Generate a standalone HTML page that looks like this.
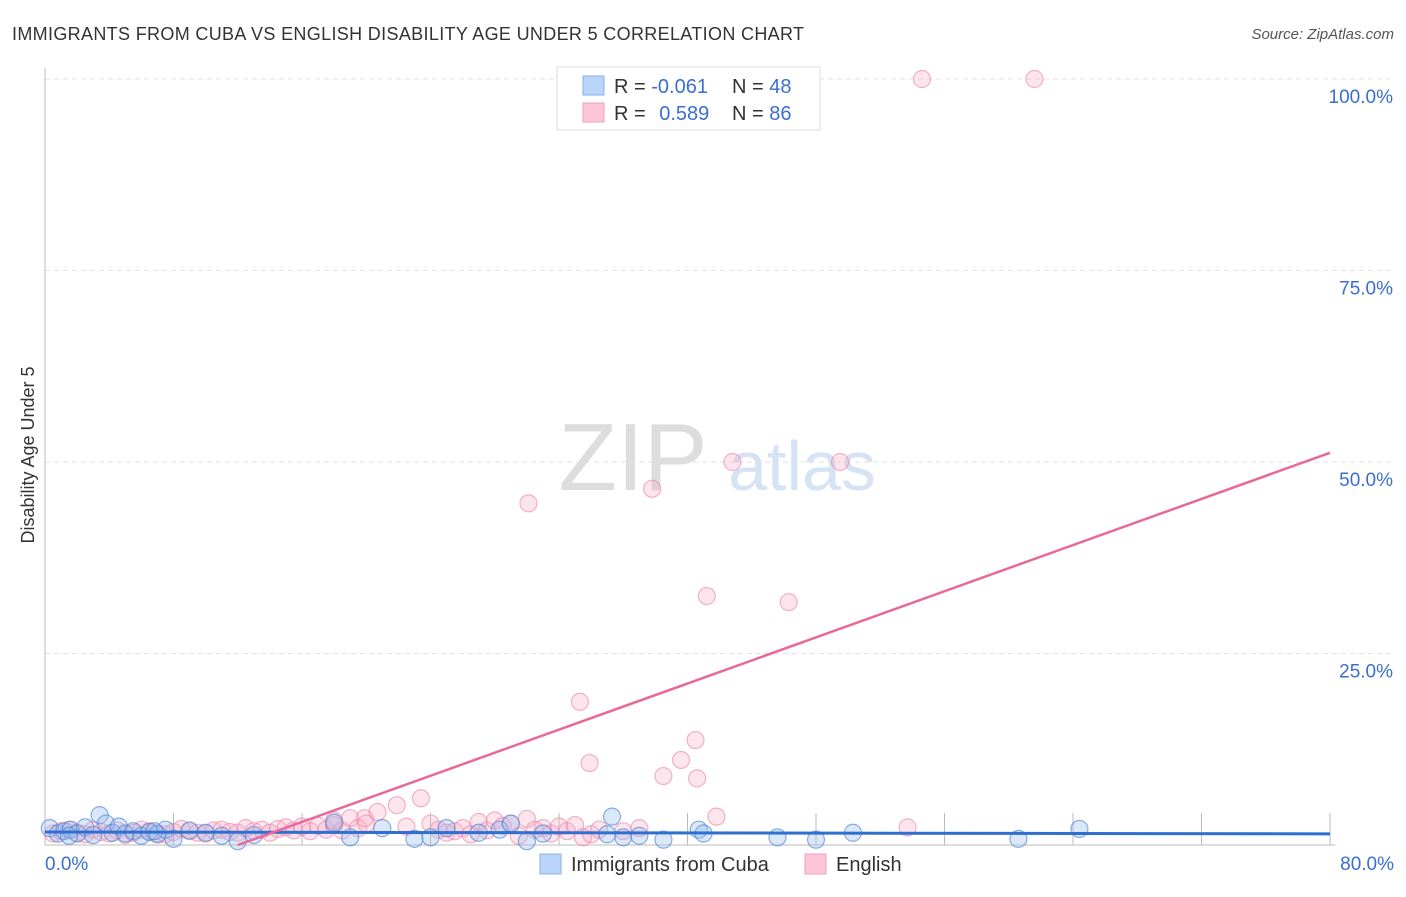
<!DOCTYPE html>
<html><head><meta charset="utf-8">
<style>
body{margin:0;background:#fff;font-family:"Liberation Sans",sans-serif;}
svg text{font-family:"Liberation Sans",sans-serif;}
</style></head>
<body>
<svg id="chart" width="1406" height="892">
<text x="12" y="40" font-size="18" fill="#333" textLength="792">IMMIGRANTS FROM CUBA VS ENGLISH DISABILITY AGE UNDER 5 CORRELATION CHART</text>
<text x="1394" y="39" font-size="15" fill="#555" font-style="italic" text-anchor="end">Source: ZipAtlas.com</text>
<text x="633" y="490" font-size="96" fill="#ddd" font-family="Liberation Serif" text-anchor="middle">ZIP</text>
<text x="802" y="490" font-size="70" fill="#d6e3f5" text-anchor="middle">atlas</text>
<text transform="translate(34,455) rotate(-90)" font-size="18" fill="#333" text-anchor="middle">Disability Age Under 5</text>
<g id="grid"></g><g id="ticks"></g><g id="pts"></g><g id="lines"></g>
<g>
<rect x="557" y="67" width="263" height="63" fill="#fff" stroke="#ddd"/>
<rect x="583" y="76" width="21" height="19" fill="#b8d4f8" stroke="#8ab2e8"/>
<rect x="583" y="103" width="21" height="19" fill="#fcc6d6" stroke="#f0a0b8"/>
<text x="614" y="93" font-size="20" fill="#333">R = <tspan fill="#3a6fd0">-0.061</tspan></text>
<text x="732" y="93" font-size="20" fill="#333">N = <tspan fill="#3a6fd0">48</tspan></text>
<text x="614" y="120" font-size="20" fill="#333">R = <tspan fill="#3a6fd0" dx="8">0.589</tspan></text>
<text x="732" y="120" font-size="20" fill="#333">N = <tspan fill="#3a6fd0">86</tspan></text>
</g>
<g>
<rect x="540" y="854" width="21" height="20" fill="#b8d4f8" stroke="#8ab2e8"/>
<text x="571" y="871" font-size="20" fill="#333">Immigrants from Cuba</text>
<rect x="805" y="854" width="21" height="20" fill="#fcc6d6" stroke="#f0a0b8"/>
<text x="836" y="871" font-size="20" fill="#333">English</text>
</g>
</svg>
<script>
const yTicks=[0,25,50,75,100];
const yTickLabels=["","25.0%","50.0%","75.0%","100.0%"];
const xTickVals=[0,8,16,24,32,40,48,56,64,72,80];
const cubaX=[0.3,0.8,1.2,1.6,2,2.5,3,3.4,3.8,4.2,4.6,5,5.5,6,6.5,7,7.5,8,9,10,11,12,13,18,19,21,23,24,25,27,28.3,29,30,31,35,35.3,36,37,38.5,40.7,41,45.6,48,50.3,60.6,64.4,1.5,6.8];
const cubaY=[2.2,1.5,1.8,2,1.5,2.3,1.3,3.9,2.8,1.6,2.4,1.5,1.8,1.2,1.7,1.4,2,0.8,1.9,1.6,1.2,0.5,1.3,2.9,1,2.2,0.8,1,2.2,1.6,2,2.8,0.5,1.5,1.4,3.7,1,1.2,0.7,2,1.5,1,0.7,1.6,0.8,2.1,1.2,1.8];
const engX=[0.5,1,1.5,2,2.5,3,3.5,4,4.5,5,5.5,6,6.5,7,7.5,8,8.5,9,9.5,10,10.5,11,11.5,12,12.5,13,13.5,14,14.5,15,15.5,16,16.5,17,17.5,18,18.5,19,19.5,19.9,20.7,21.9,23.4,22.5,24,24.5,25,25.5,26,26.5,27,27.5,28,28.5,29,29.5,30,30.5,31,31.5,32,32.5,33,33.5,34,34.5,36,37,30.1,33.3,33.9,37.8,38.5,39.6,40.5,40.6,41.2,41.8,42.8,46.3,49.5,53.7,54.6,61.6,20,18];
const engY=[1.5,1.8,2,1.6,1.4,2,1.7,1.5,1.9,1.3,1.6,2,1.8,1.5,1.4,1.7,2.1,1.8,1.6,1.5,1.9,2,1.7,1.6,2.2,1.8,2,1.6,2.1,2.3,1.9,2.4,1.8,2.5,2,2.6,1.9,3.5,2.2,3.5,4.3,5.2,6.1,2.4,2.8,2,1.6,1.8,2.2,1.4,3,1.9,3.2,2.5,2.8,1.2,3.4,2,2.2,1.5,2.4,1.8,2.6,1,1.4,2,1.8,2.2,44.6,18.7,10.7,46.5,9,11.1,13.7,8.7,32.5,3.7,50,31.7,50,2.3,100,100,2.8,3.2];
const NS="http://www.w3.org/2000/svg";
const X0=45,X1=1330,Y0=845,Y1=79;
const xs=v=>X0+(X1-X0)*v/80, ys=v=>Y0-(Y0-Y1)*v/100;
function mk(tag,attrs,parent){const e=document.createElementNS(NS,tag);for(const k in attrs)e.setAttribute(k,attrs[k]);document.getElementById(parent).appendChild(e);return e;}
yTicks.forEach((t,i)=>{
  if(t>0){const g=mk('line',{x1:X0,x2:1392,y1:ys(t),y2:ys(t),stroke:'#e2e2e2','stroke-dasharray':'5,4'},'grid');
  
  
  const l=mk('text',{x:1393,y:ys(t)+24,'font-size':19,fill:'#3a6fd0','text-anchor':'end'},'grid');l.textContent=yTickLabels[i];
  
  }
});
const ax=mk('line',{x1:X0,x2:X0,y1:68,y2:Y0,stroke:'#bbb'},'ticks');


const bx=mk('line',{x1:X0,x2:1335,y1:Y0,y2:Y0,stroke:'#bbb'},'ticks');


xTickVals.forEach(v=>{const t=mk('line',{x1:xs(v),x2:xs(v),y1:Y0-32,y2:Y0,stroke:'#bbb'},'ticks');
  
  });
const xl0=mk('text',{x:45,y:870,'font-size':19,fill:'#3a6fd0'},'ticks');xl0.textContent='0.0%';


const xl1=mk('text',{x:1394,y:870,'font-size':19,fill:'#3a6fd0','text-anchor':'end'},'ticks');xl1.textContent='80.0%';


engX.forEach((v,i)=>{const c=mk('circle',{cx:xs(v),cy:ys(engY[i]),r:8.5,fill:'rgba(248,170,195,0.3)',stroke:'rgba(235,130,165,0.6)','stroke-width':1.2},'pts');
  
  });
cubaX.forEach((v,i)=>{const c=mk('circle',{cx:xs(v),cy:ys(cubaY[i]),r:8.5,fill:'rgba(150,190,240,0.35)',stroke:'rgba(80,130,210,0.65)','stroke-width':1.2},'pts');
  
  });
const bl=mk('line',{x1:xs(0),x2:xs(80),y1:ys(1.7),y2:ys(1.45),stroke:'#2f6fd0','stroke-width':3},'lines');


const pl=mk('line',{x1:xs(12),x2:xs(80),y1:ys(0),y2:ys(51.2),stroke:'#e8689a','stroke-width':2.5},'lines');


</script>
</body></html>
